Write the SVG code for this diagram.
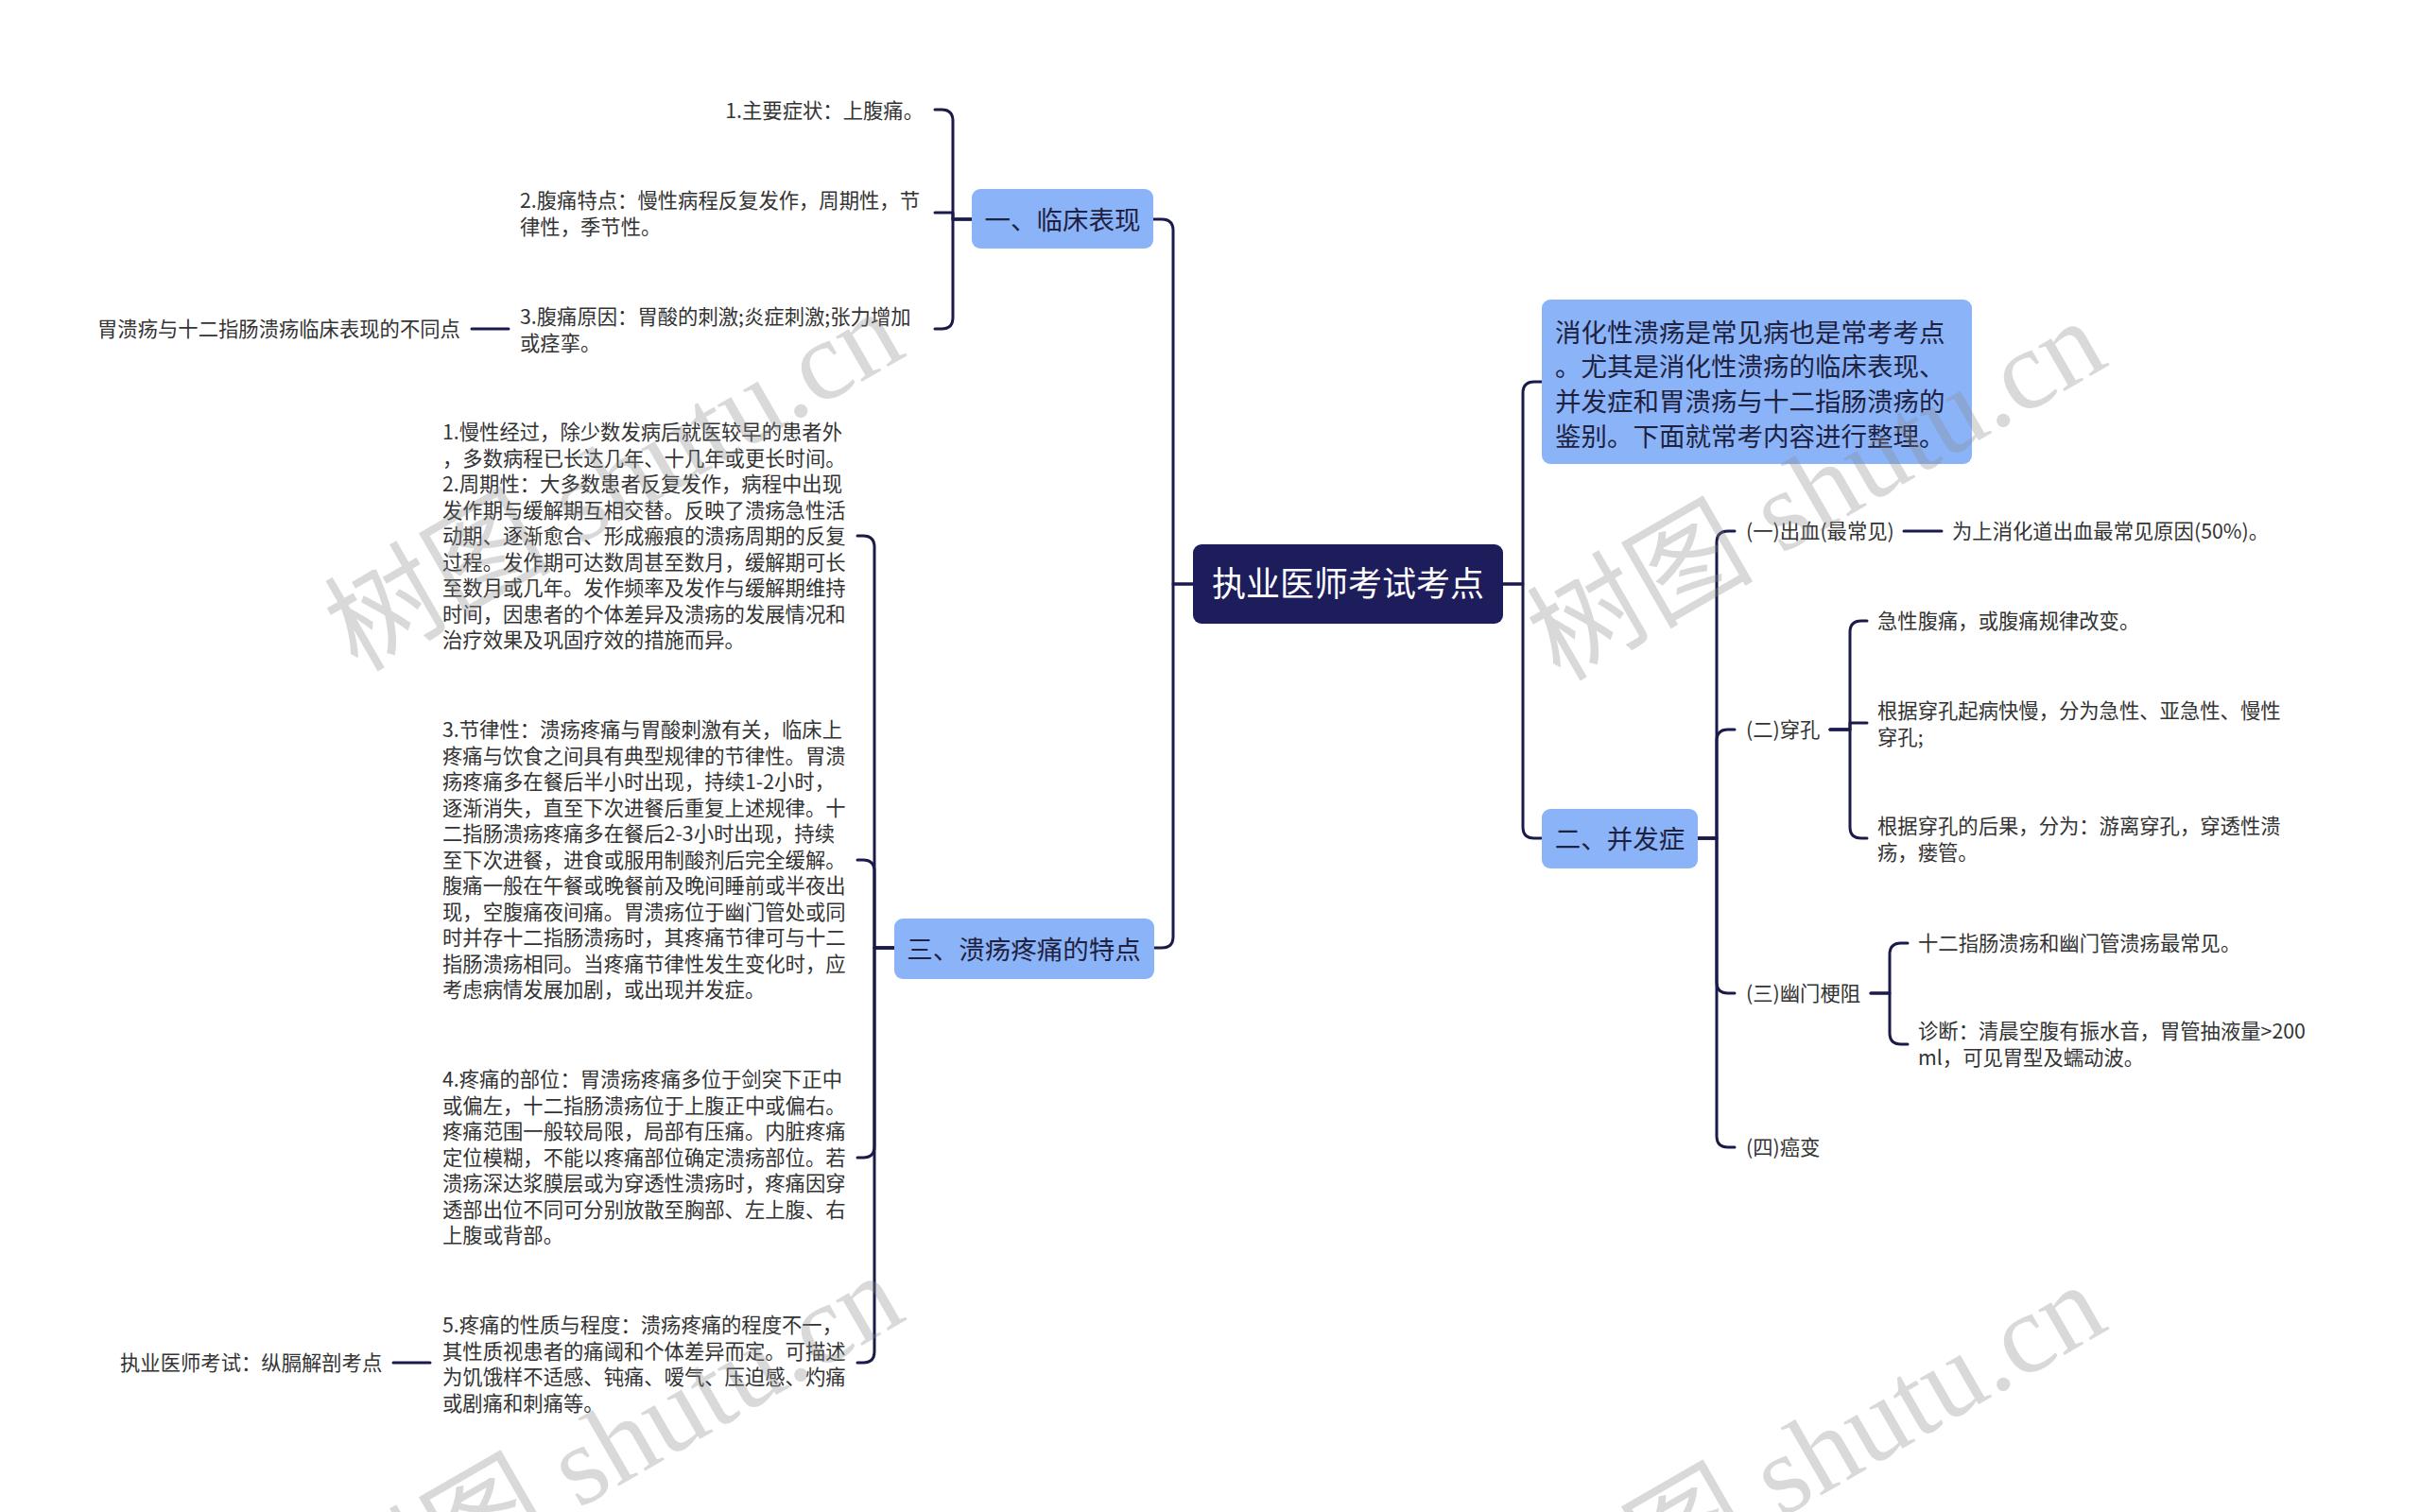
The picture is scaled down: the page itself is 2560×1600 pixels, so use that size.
<svg xmlns="http://www.w3.org/2000/svg" width="2560" height="1600" viewBox="0 0 2560 1600">
<style>
text{font-family:"Noto Sans CJK SC","Noto Sans",sans-serif}
.leaf{font-size:21.33px;fill:#333}
.l1{font-size:27.5px;fill:#1f2140}
.box{fill:#8bb4f8}
.root{fill:#1e1d5c}
.rt{font-size:36px;fill:#ffffff}
.conn path{fill:none;stroke:#1b1b4b;stroke-width:3;stroke-linecap:round;stroke-linejoin:round}
.wm{font-family:"Liberation Serif","Noto Sans CJK SC",serif;font-size:120px;fill:#888;fill-opacity:0.32}
</style>
<rect width="2560" height="1600" fill="#ffffff"/>

<g class="conn" id="connectors">
<path d="M1262,618 H1241 V244 Q1241,232 1229,232 H1220"/>
<path d="M1262,618 H1241 V991 Q1241,1003 1229,1003 H1221"/>
<path d="M1590,618 H1611 V416 Q1611,404 1623,404 H1631"/>
<path d="M1590,618 H1611 V875 Q1611,887 1623,887 H1631"/>
<path d="M1028,232 H1008 V128 Q1008,116 996,116 H989"/>
<path d="M1028,232 H1008 V225 H989"/>
<path d="M1028,232 H1008 V336 Q1008,348 996,348 H989"/>
<path d="M538,348 H499"/>
<path d="M946,1003 H925 V579 Q925,567 913,567 H907"/>
<path d="M946,1003 H925 V922 Q925,910 913,910 H907"/>
<path d="M946,1003 H925 V1213 Q925,1225 913,1225 H907"/>
<path d="M946,1003 H925 V1430 Q925,1442 913,1442 H907"/>
<path d="M455,1442 H416"/>
<path d="M1796,887 H1816 V574 Q1816,562 1828,562 H1835"/>
<path d="M1796,887 H1816 V784 Q1816,772 1828,772 H1835"/>
<path d="M1796,887 H1816 V1039 Q1816,1051 1828,1051 H1835"/>
<path d="M1796,887 H1816 V1202 Q1816,1214 1828,1214 H1835"/>
<path d="M2014,562 H2054"/>
<path d="M1936,772 H1957 V669 Q1957,657 1969,657 H1975"/>
<path d="M1936,772 H1957 V765 H1975"/>
<path d="M1936,772 H1957 V875 Q1957,887 1969,887 H1975"/>
<path d="M1979,1051 H1999 V1010 Q1999,998 2011,998 H2018"/>
<path d="M1979,1051 H1999 V1093 Q1999,1105 2011,1105 H2018"/>
</g>

<g id="root">
<rect class="root" x="1262" y="576" width="328" height="84" rx="9"/>
<text class="rt" x="1426" y="631" text-anchor="middle">执业医师考试考点</text>
</g>

<g id="n-intro">
<rect class="box" x="1631" y="317" width="455" height="174" rx="9"/>
<text class="l1" x="1645" y="361.5">消化性溃疡是常见病也是常考考点<tspan x="1645" dy="36.7">。尤其是消化性溃疡的临床表现、</tspan><tspan x="1645" dy="36.7">并发症和胃溃疡与十二指肠溃疡的</tspan><tspan x="1645" dy="36.7">鉴别。下面就常考内容进行整理。</tspan></text>
</g>

<g id="n-clinical">
<rect class="box" x="1028" y="200" width="192" height="63" rx="9"/>
<text class="l1" x="1124" y="242.5" text-anchor="middle">一、临床表现</text>
</g>
<g id="n-c1"><text class="leaf" x="977" y="125" text-anchor="end">1.主要症状：上腹痛。</text></g>
<g id="n-c2"><text class="leaf" x="550" y="220">2.腹痛特点：慢性病程反复发作，周期性，节<tspan x="550" dy="27.5">律性，季节性。</tspan></text></g>
<g id="n-c3"><text class="leaf" x="550" y="343">3.腹痛原因：胃酸的刺激;炎症刺激;张力增加<tspan x="550" dy="27.5">或痉挛。</tspan></text></g>
<g id="n-c3a"><text class="leaf" x="103" y="356">胃溃疡与十二指肠溃疡临床表现的不同点</text></g>

<g id="n-pain">
<rect class="box" x="946" y="972" width="275" height="64" rx="9"/>
<text class="l1" x="1083" y="1014.5" text-anchor="middle">三、溃疡疼痛的特点</text>
</g>
<g id="n-p1"><text class="leaf" x="468" y="465">1.慢性经过，除少数发病后就医较早的患者外<tspan x="468" dy="27.5">，多数病程已长达几年、十几年或更长时间。</tspan><tspan x="468" dy="27.5">2.周期性：大多数患者反复发作，病程中出现</tspan><tspan x="468" dy="27.5">发作期与缓解期互相交替。反映了溃疡急性活</tspan><tspan x="468" dy="27.5">动期、逐渐愈合、形成瘢痕的溃疡周期的反复</tspan><tspan x="468" dy="27.5">过程。发作期可达数周甚至数月，缓解期可长</tspan><tspan x="468" dy="27.5">至数月或几年。发作频率及发作与缓解期维持</tspan><tspan x="468" dy="27.5">时间，因患者的个体差异及溃疡的发展情况和</tspan><tspan x="468" dy="27.5">治疗效果及巩固疗效的措施而异。</tspan></text></g>
<g id="n-p3"><text class="leaf" x="468" y="780">3.节律性：溃疡疼痛与胃酸刺激有关，临床上<tspan x="468" dy="27.5">疼痛与饮食之间具有典型规律的节律性。胃溃</tspan><tspan x="468" dy="27.5">疡疼痛多在餐后半小时出现，持续1-2小时，</tspan><tspan x="468" dy="27.5">逐渐消失，直至下次进餐后重复上述规律。十</tspan><tspan x="468" dy="27.5">二指肠溃疡疼痛多在餐后2-3小时出现，持续</tspan><tspan x="468" dy="27.5">至下次进餐，进食或服用制酸剂后完全缓解。</tspan><tspan x="468" dy="27.5">腹痛一般在午餐或晚餐前及晚间睡前或半夜出</tspan><tspan x="468" dy="27.5">现，空腹痛夜间痛。胃溃疡位于幽门管处或同</tspan><tspan x="468" dy="27.5">时并存十二指肠溃疡时，其疼痛节律可与十二</tspan><tspan x="468" dy="27.5">指肠溃疡相同。当疼痛节律性发生变化时，应</tspan><tspan x="468" dy="27.5">考虑病情发展加剧，或出现并发症。</tspan></text></g>
<g id="n-p4"><text class="leaf" x="468" y="1150">4.疼痛的部位：胃溃疡疼痛多位于剑突下正中<tspan x="468" dy="27.5">或偏左，十二指肠溃疡位于上腹正中或偏右。</tspan><tspan x="468" dy="27.5">疼痛范围一般较局限，局部有压痛。内脏疼痛</tspan><tspan x="468" dy="27.5">定位模糊，不能以疼痛部位确定溃疡部位。若</tspan><tspan x="468" dy="27.5">溃疡深达浆膜层或为穿透性溃疡时，疼痛因穿</tspan><tspan x="468" dy="27.5">透部出位不同可分别放散至胸部、左上腹、右</tspan><tspan x="468" dy="27.5">上腹或背部。</tspan></text></g>
<g id="n-p5"><text class="leaf" x="468" y="1410">5.疼痛的性质与程度：溃疡疼痛的程度不一，<tspan x="468" dy="27.5">其性质视患者的痛阈和个体差异而定。可描述</tspan><tspan x="468" dy="27.5">为饥饿样不适感、钝痛、嗳气、压迫感、灼痛</tspan><tspan x="468" dy="27.5">或剧痛和刺痛等。</tspan></text></g>
<g id="n-p5a"><text class="leaf" x="127" y="1450">执业医师考试：纵膈解剖考点</text></g>

<g id="n-comp">
<rect class="box" x="1631" y="856" width="165" height="63" rx="9"/>
<text class="l1" x="1713.5" y="897.5" text-anchor="middle">二、并发症</text>
</g>
<g id="n-k1"><text class="leaf" x="1847" y="570">(一)出血(最常见)</text></g>
<g id="n-k1a"><text class="leaf" x="2065" y="570">为上消化道出血最常见原因(50%)。</text></g>
<g id="n-k2"><text class="leaf" x="1847" y="780">(二)穿孔</text></g>
<g id="n-k2a"><text class="leaf" x="1986" y="665">急性腹痛，或腹痛规律改变。</text></g>
<g id="n-k2b"><text class="leaf" x="1986" y="760">根据穿孔起病快慢，分为急性、亚急性、慢性<tspan x="1986" dy="27.5">穿孔;</tspan></text></g>
<g id="n-k2c"><text class="leaf" x="1986" y="882">根据穿孔的后果，分为：游离穿孔，穿透性溃<tspan x="1986" dy="27.5">疡，瘘管。</tspan></text></g>
<g id="n-k3"><text class="leaf" x="1847" y="1059">(三)幽门梗阻</text></g>
<g id="n-k3a"><text class="leaf" x="2029" y="1006">十二指肠溃疡和幽门管溃疡最常见。</text></g>
<g id="n-k3b"><text class="leaf" x="2029" y="1099">诊断：清晨空腹有振水音，胃管抽液量&gt;200<tspan x="2029" dy="27.5">ml，可见胃型及蠕动波。</tspan></text></g>
<g id="n-k4"><text class="leaf" x="1847" y="1222">(四)癌变</text></g>

<g id="watermarks">
<text class="wm" transform="translate(378,712) rotate(-30)">树图 shutu.cn</text>
<text class="wm" transform="translate(1650,722) rotate(-30)">树图 shutu.cn</text>
<text class="wm" transform="translate(378,1732) rotate(-30)">树图 shutu.cn</text>
<text class="wm" transform="translate(1650,1742) rotate(-30)">树图 shutu.cn</text>
</g>
</svg>
